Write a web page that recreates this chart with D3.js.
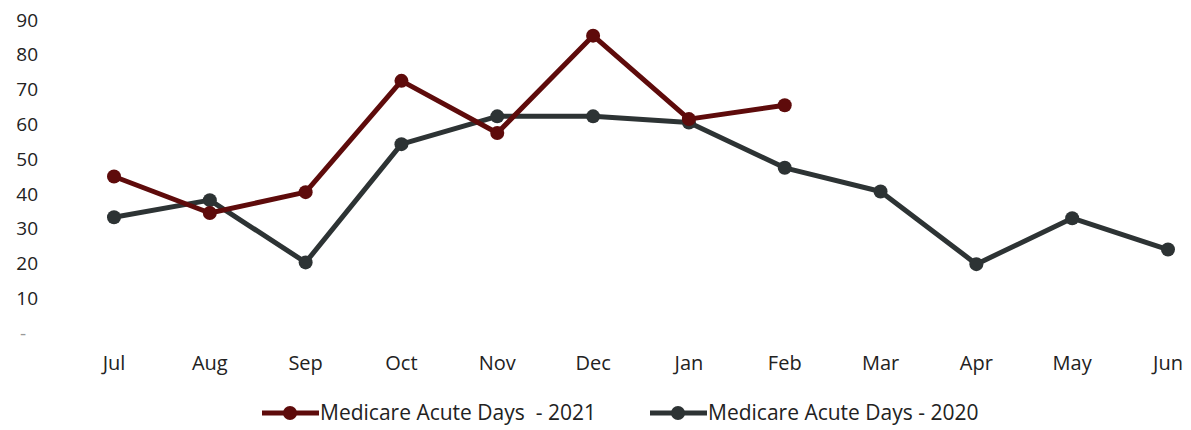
<!DOCTYPE html>
<html>
<head>
<meta charset="utf-8">
<script src="https://cdn.jsdelivr.net/npm/d3@7"></script>
<style>
  body { margin: 0; background: #fff; }
  text { font-family: "Open Sans", "Noto Sans", sans-serif; fill: #222; }
</style>
</head>
<body>
<script>
const months = ["Jul", "Aug", "Sep", "Oct", "Nov", "Dec", "Jan", "Feb", "Mar", "Apr", "May", "Jun"];
const acute2021 = [45, 34.5, 40.5, 72.5, 57.5, 85.5, 61.5, 65.5];
const acute2020 = [33.3, 38.2, 20.3, 54.3, 62.3, 62.3, 60.5, 47.5, 40.7, 19.8, 33, 24];
const yTicks = [0, 10, 20, 30, 40, 50, 60, 70, 80, 90];

const width = 1191, height = 430;
const series = [
  { name: "Medicare Acute Days  - 2021", values: acute2021, color: "#5e0b0b" },
  { name: "Medicare Acute Days - 2020", values: acute2020, color: "#2d3334" }
];

const svg = d3.select("body").append("svg")
  .attr("width", width)
  .attr("height", height);

const x = d3.scalePoint()
  .domain(months)
  .range([114, 1168]);

const y = d3.scaleLinear()
  .domain([0, 90])
  .range([333, 20]);

// y labels, "-" for zero like the accounting format
svg.append("g")
  .selectAll("text")
  .data(yTicks)
  .join("text")
  .attr("x", d => d === 0 ? 26 : 38)
  .attr("y", d => y(d))
  .attr("dy", "0.35em")
  .attr("text-anchor", "end")
  .style("font-size", "19px")
  .style("fill", d => d === 0 ? "#999" : null)
  .text(d => d === 0 ? "-" : d);

// x labels
svg.append("g")
  .selectAll("text")
  .data(months)
  .join("text")
  .attr("x", d => x(d))
  .attr("y", 363)
  .attr("dy", "0.35em")
  .attr("text-anchor", "middle")
  .style("font-size", "20px")
  .text(d => d);

const line = d3.line()
  .x((d, i) => x(months[i]))
  .y(d => y(d));

// draw 2020 first so 2021 sits on top where it does in the reference
[series[1], series[0]].forEach(s => {
  const g = svg.append("g");
  g.append("path")
    .datum(s.values)
    .attr("fill", "none")
    .attr("stroke", s.color)
    .attr("stroke-width", 5)
    .attr("stroke-linejoin", "round")
    .attr("d", line);
  g.selectAll("circle")
    .data(s.values)
    .join("circle")
    .attr("cx", (d, i) => x(months[i]))
    .attr("cy", d => y(d))
    .attr("r", 7)
    .attr("fill", s.color);
});

// legend
const legendX = [262, 650];
const legend = svg.append("g")
  .selectAll("g")
  .data(series)
  .join("g")
  .attr("transform", (d, i) => `translate(${legendX[i]},413)`);

legend.append("line")
  .attr("x1", 0).attr("x2", 57)
  .attr("stroke", d => d.color)
  .attr("stroke-width", 5);
legend.append("circle")
  .attr("cx", 28)
  .attr("r", 7)
  .attr("fill", d => d.color);
legend.append("text")
  .attr("x", 58)
  .attr("dy", "0.35em")
  .style("font-size", "21px")
  .style("white-space", "pre")
  .text(d => d.name);
</script>
</body>
</html>
